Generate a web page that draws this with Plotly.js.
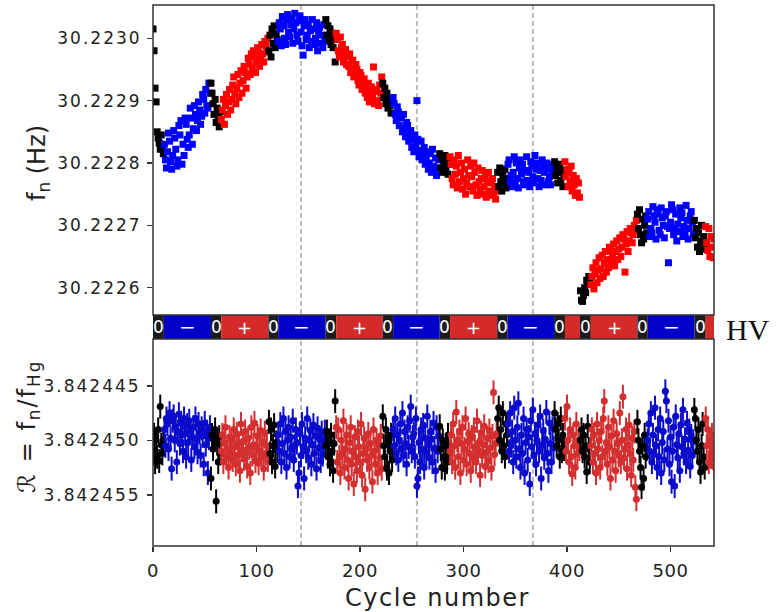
<!DOCTYPE html>
<html>
<head>
<meta charset="utf-8">
<script src="https://cdn.plot.ly/plotly-3.0.1.min.js"></script>
<style>
  html, body { margin: 0; padding: 0; background: #fff; }
  #chart { width: 779px; height: 612px; }
  .ytick text, .y3tick text { letter-spacing: 2px; }
  .xtick text { letter-spacing: 0.5px; }
</style>
</head>
<body>
<div id="chart"></div>
<script>
// ---------------- DATA ----------------
// HV state segments (cycle number boundaries)
const hvStart = [0, 10.5, 56, 66, 111.5, 121, 166.5, 177, 222, 232, 277, 287, 332.5, 342.5, 387.5, 398, 412.5, 423, 468, 478, 523, 534];
const hvEnd   = [10.5, 56, 66, 111.5, 121, 166.5, 177, 222, 232, 277, 287, 332.5, 342.5, 387.5, 398, 412.5, 423, 468, 478, 523, 534, 542];
const hvState = ['0','-','0','+','0','-','0','+','0','-','0','+','0','-','0','+','0','+','0','-','0','+'];
const hvLabel = ['0','\u2212','0','+','0','\u2212','0','+','0','\u2212','0','+','0','\u2212','0','','0','+','0','\u2212','0',''];

// Vertical dashed reference lines (cycle number)
const dashedCycles = [143, 255, 367];

// Top panel: f_n, in units of 1e-6 Hz above 30.2225 Hz, one array per HV segment
const FN_BASE = 30.2225, FN_UNIT = 1e-6;
const fnSeg = [
  [515, 480, 420, 398, 350, 340, 332, 322, 345, 328, 315],
  [330, 305, 292, 318, 348, 335, 302, 290, 312, 352, 340, 322, 295, 305, 360, 345, 368, 298, 330, 312, 372, 362, 338, 325, 345, 388, 372, 330, 355, 392, 378, 352, 368, 398, 385, 362, 375, 410, 402, 380, 418, 392, 388, 428, 412],
  [428, 412, 395, 378, 402, 365, 388, 372, 358, 382],
  [370, 385, 402, 362, 392, 410, 378, 398, 418, 385, 402, 425, 438, 410, 395, 420, 442, 405, 428, 448, 412, 432, 455, 445, 420, 438, 468, 458, 442, 475, 452, 480, 470, 445, 462, 485, 478, 455, 468, 490, 475, 462, 495, 488, 478, 500],
  [480, 505, 470, 515, 492, 520, 485, 508, 498],
  [495, 525, 515, 488, 535, 520, 500, 490, 530, 538, 510, 502, 522, 532, 492, 515, 540, 525, 505, 495, 528, 536, 510, 488, 473, 520, 530, 498, 505, 522, 485, 512, 495, 530, 515, 490, 500, 525, 480, 508, 518, 492, 505, 485, 522, 495],
  [530, 505, 520, 498, 515, 490, 508, 485, 500, 462],
  [508, 498, 480, 470, 502, 485, 490, 462, 472, 482, 458, 470, 455, 475, 445, 452, 465, 438, 442, 458, 450, 432, 425, 445, 440, 418, 428, 435, 412, 420, 405, 428, 398, 412, 422, 405, 454, 395, 415, 418, 400, 392, 425, 412, 438],
  [428, 405, 420, 395, 412, 388, 405, 392, 380, 398],
  [405, 395, 378, 368, 390, 382, 360, 372, 375, 350, 378, 355, 342, 365, 360, 335, 345, 352, 325, 338, 318, 345, 328, 400, 338, 310, 320, 335, 305, 315, 325, 298, 308, 318, 290, 300, 315, 285, 322, 295, 288, 308, 280, 292, 305],
  [315, 292, 308, 285, 300, 312, 290, 305, 282, 298],
  [310, 298, 275, 265, 305, 282, 295, 260, 312, 270, 285, 300, 258, 275, 290, 250, 268, 305, 280, 262, 295, 278, 255, 300, 285, 265, 248, 292, 270, 258, 275, 288, 250, 262, 280, 245, 270, 285, 255, 248, 268, 275, 252, 262, 242, 255],
  [285, 262, 292, 270, 255, 280, 268, 290, 260, 275],
  [298, 305, 270, 280, 262, 285, 310, 268, 300, 275, 260, 292, 305, 282, 298, 270, 265, 288, 310, 272, 285, 262, 302, 295, 278, 268, 312, 290, 300, 275, 262, 288, 272, 305, 295, 285, 265, 300, 290, 270, 278, 265, 298, 285, 292],
  [302, 280, 292, 268, 285, 298, 272, 288, 262, 280],
  [302, 278, 290, 262, 285, 270, 295, 255, 280, 265, 248, 275, 252, 268, 245],
  [95, 80, 78, 88, 100, 92, 112, 105, 118, 110],
  [105, 118, 132, 98, 122, 140, 108, 128, 148, 115, 130, 152, 118, 140, 158, 125, 145, 132, 165, 160, 142, 150, 170, 135, 158, 175, 145, 162, 180, 150, 165, 185, 178, 125, 170, 190, 158, 175, 195, 188, 172, 185, 200, 192, 208],
  [218, 195, 225, 185, 172, 210, 178, 200, 215, 188],
  [210, 222, 182, 195, 188, 230, 215, 205, 178, 225, 218, 192, 185, 228, 212, 200, 180, 215, 222, 198, 140, 195, 205, 233, 225, 185, 195, 218, 175, 202, 190, 228, 212, 220, 182, 198, 188, 232, 208, 178, 195, 215, 222, 205, 185],
  [208, 180, 195, 165, 188, 158, 175, 200, 162, 182, 170],
  [198, 172, 160, 195, 150, 182, 165, 148, 178]
];

// Bottom panel: R = f_n/f_Hg, in units of 1e-7 relative to 3.842450, one array per HV segment
const R_BASE = 3.842450, R_UNIT = 1e-7;
const rErrUnits = 11;  // +/- error bar half length, same units
const rSeg = [
  [8, -5, 20, 0, 15, -10, 19, -31, 4, 12, 0],
  [-10, 5, -20, -15, 8, -25, -2, 26, -18, -22, 0, -12, 20, -8, -24, 3, -16, -5, 10, -20, -6, 15, -14, 2, -18, -9, 18, -3, -12, 6, -20, -1, 11, -15, -7, 14, -11, -4, 22, -16, 4, -8, 30, -2, -12],
  [35, -5, 8, 0, -10, 56, 3, 20, -3, 12],
  [10, -5, 20, 2, -12, 15, 8, 25, -3, 12, 0, 18, -10, 6, 22, -6, 14, 3, 28, -15, 9, 1, 17, -8, 11, 24, -2, 7, 30, -12, 13, 4, -16, 19, 6, -4, 21, 10, -9, 15, 2, 26, -7, 12, 5, 18],
  [-17, 12, -10, 20, 5, -14, 24, 2, 10],
  [-5, 10, -15, 20, 3, -20, 12, -8, 25, 0, -12, 15, -3, 8, -18, 18, 5, -10, 2, 42, 30, -6, 14, -15, 6, 35, -2, 10, -20, 16, 0, -9, 22, 4, -14, 12, -4, 26, -11, 7, -1, 19, -7, 13, 3, -8],
  [5, -8, 15, 0, 22, -5, 10, 28, 3, -36],
  [-12, 20, -10, 15, 30, 0, 12, -18, 25, 8, -5, 18, 35, 2, -12, 22, 10, 40, -3, 15, 28, -8, 6, 20, -15, 32, 12, -2, 45, 8, 18, -6, 25, 3, 14, 38, -10, 10, 22, 0, 30, 5, 16, -4, 26],
  [-22, 5, 15, -10, 26, 0, 30, 10, -5, 18],
  [-10, 5, -20, 12, -5, 18, 0, -15, 8, -25, 14, -8, 3, 22, -12, 6, -18, -31, 10, -3, -6, 15, -20, 42, 35, 2, 20, -10, 8, -14, 25, -2, 12, -22, 4, 16, -8, -1, 20, -16, 7, 28, -12, 10, -4],
  [-13, 8, 25, 0, 15, 26, 5, 20, -5, 12],
  [10, -5, 20, -15, 5, 25, -26, 0, 15, -8, 30, 3, -12, 18, 8, -20, 22, 1, -6, 12, 28, -3, 16, -10, 6, 20, -18, 9, 2, 32, -7, 14, 4, -13, 24, 11, -2, 19, -9, 7, 26, -4, -44, 13, 3, -6],
  [-20, -30, 0, -10, 10, -25, 5, 15, -15, -5],
  [-15, 10, -25, 5, -8, 20, -30, 0, 15, -12, -34, 8, 25, -5, 12, -20, 30, 2, -10, 18, -3, 40, -18, 6, -28, 14, -6, 22, 0, -14, 10, -22, 35, 4, -9, 16, -1, -26, 12, 28, -16, 3, 20, -11, 7],
  [-25, -10, 5, -15, 0, 15, -20, 10, -5, 8],
  [-20, 10, -31, 0, 20, -10, 15, 31, -5, 5, 25, -15, 12, 0, 8],
  [0, -10, 10, -5, 15, 5, 29, -13, 8, 20],
  [5, -10, 20, -5, 12, 30, -15, 8, 0, 25, -8, 15, -20, -36, 10, 2, 22, -12, 6, 35, -4, 18, -18, 10, 28, -6, 3, 14, -25, 20, 0, -40, 16, 8, -10, 26, 4, -14, 12, 32, -2, 18, -8, 43, 54],
  [-17, 0, 10, 25, 43, 5, 35, -5, 15, 8],
  [0, -15, 10, -25, 20, -5, 12, -30, 5, 25, -10, 15, -20, 30, 2, -8, 18, -45, -36, 8, -18, 22, -3, 38, 10, -12, 42, -22, 4, 16, -6, 28, -14, 6, -28, 12, -1, 20, -16, 9, -9, 24, -4, 14, 1],
  [-28, -20, 0, 10, -10, 20, 29, 5, -15, 15, 25],
  [-20, 5, -10, 20, 0, 15, -5, 10, 24]
];

// Axis ticks
const xTicks = [0, 100, 200, 300, 400, 500];
const fnTicks = [30.2226, 30.2227, 30.2228, 30.2229, 30.2230];
const fnTickText = ['30.2226', '30.2227', '30.2228', '30.2229', '30.2230'];
const rTicks = [3.842445, 3.842450, 3.842455];
const rTickText = ['3.842445', '3.842450', '3.842455'];

// ---------------- STYLE ----------------
const FONT = 'DejaVu Sans, Verdana, sans-serif';
const topColor = {'0': '#000000', '-': '#0000ff', '+': '#ff0000'};
const botColor = {'0': '#000000', '-': '#0b0bcc', '+': '#d42f2f'};
const hvColor  = {'0': '#1c1c1c', '-': '#0000c8', '+': '#d42a2a'};
const AX = '#333333';

const D_BOT = [0, 0.3826];
const D_HV  = [0.3826, 0.427];
const D_TOP = [0.427, 1];

// ---------------- TRACES ----------------
const traces = [];

// HV strip
traces.push({
  type: 'bar', orientation: 'h',
  x: hvEnd.map((e, i) => e - hvStart[i]),
  base: hvStart,
  y: hvStart.map(() => 0),
  width: 1,
  marker: {color: hvState.map(s => hvColor[s]), line: {width: 0}},
  xaxis: 'x', yaxis: 'y2',
  hoverinfo: 'skip', showlegend: false
});

// Bottom panel (with error bars)
rSeg.forEach((arr, s) => {
  const c0 = Math.ceil(hvStart[s]);
  const col = botColor[hvState[s]];
  traces.push({
    type: 'scatter', mode: 'markers',
    x: arr.map((v, i) => c0 + i),
    y: arr.map(v => R_BASE + v * R_UNIT),
    error_y: {type: 'constant', value: rErrUnits * R_UNIT, color: col, thickness: 2, width: 0},
    marker: {symbol: 'circle', size: 7, color: col, line: {width: 0}},
    xaxis: 'x', yaxis: 'y', hoverinfo: 'skip', showlegend: false
  });
});

// Top panel
fnSeg.forEach((arr, s) => {
  const c0 = Math.ceil(hvStart[s]);
  traces.push({
    type: 'scatter', mode: 'markers',
    x: arr.map((v, i) => c0 + i),
    y: arr.map(v => FN_BASE + v * FN_UNIT),
    marker: {symbol: 'square', size: 7, color: topColor[hvState[s]], line: {width: 0}},
    xaxis: 'x', yaxis: 'y3', hoverinfo: 'skip', showlegend: false
  });
});

// ---------------- LAYOUT ----------------
const shapes = [];
dashedCycles.forEach(c => shapes.push({
  type: 'line', xref: 'x', yref: 'paper', x0: c, x1: c, y0: 0, y1: 1,
  line: {color: '#bcbcbc', width: 2, dash: '5px,3px'}, layer: 'below'
}));
[D_TOP, D_BOT].forEach(d => shapes.push({
  type: 'rect', xref: 'paper', yref: 'paper', x0: 0, x1: 1, y0: d[0], y1: d[1],
  line: {color: AX, width: 1.5}, fillcolor: 'rgba(0,0,0,0)', layer: 'above'
}));

const annotations = [];
hvLabel.forEach((t, i) => {
  if (!t) return;
  annotations.push({
    xref: 'x', yref: 'y2', x: (hvStart[i] + hvEnd[i]) / 2, y: 0,
    text: t, showarrow: false, xanchor: 'center', yanchor: 'middle',
    font: {family: FONT, size: t === '0' ? 17 : (t === '+' ? 18 : 20), color: '#ffffff'}
  });
});
annotations.push({
  xref: 'paper', yref: 'paper', x: 1.0606, y: 0.4011, text: 'HV', showarrow: false,
  xanchor: 'center', yanchor: 'middle',
  font: {family: 'Liberation Serif, Times New Roman, serif', size: 30, color: '#111'}
});
annotations.push({
  xref: 'paper', yref: 'paper', x: 0.5071, y: -0.0961, text: 'Cycle number', showarrow: false,
  xanchor: 'center', yanchor: 'middle',
  font: {family: FONT, size: 24, color: '#222'}
});
annotations.push({
  xref: 'paper', yref: 'paper', x: -0.2041, y: 0.7089, text: 'f<sub>n</sub> (Hz)', showarrow: false,
  xanchor: 'center', yanchor: 'middle', textangle: -90,
  font: {family: FONT, size: 24, color: '#222'}
});
annotations.push({
  xref: 'paper', yref: 'paper', x: -0.2217, y: 0.2209, text: '\u211B = f<sub>n</sub>/f<sub>Hg</sub>', showarrow: false,
  xanchor: 'center', yanchor: 'middle', textangle: -90,
  font: {family: FONT, size: 24, color: '#222'}
});

const tickCommon = {
  ticks: 'outside', ticklen: 5, tickwidth: 1.5, tickcolor: AX,
  showgrid: false, zeroline: false, showline: false, fixedrange: true
};

const layout = {
  width: 779, height: 612,
  margin: {l: 153, r: 65, t: 5, b: 66, pad: 0},
  paper_bgcolor: '#ffffff', plot_bgcolor: '#ffffff',
  showlegend: false,
  xaxis: Object.assign({}, tickCommon, {
    domain: [0, 1], anchor: 'y', range: [0, 542],
    tickmode: 'array', tickvals: xTicks, ticktext: xTicks.map(String),
    ticklabelstandoff: 3,
    tickfont: {family: FONT, size: 18, color: '#222'}
  }),
  yaxis: Object.assign({}, tickCommon, {
    domain: D_BOT, anchor: 'x', range: [3.8424597, 3.8424407],
    tickmode: 'array', tickvals: rTicks, ticktext: rTickText,
    ticklabelstandoff: 3,
    tickfont: {family: FONT, size: 17, color: '#222'}
  }),
  yaxis2: {domain: D_HV, anchor: 'x', range: [-0.5, 0.5], visible: false, fixedrange: true},
  yaxis3: Object.assign({}, tickCommon, {
    domain: D_TOP, anchor: 'x', range: [30.2225562, 30.2230534],
    tickmode: 'array', tickvals: fnTicks, ticktext: fnTickText,
    ticklabelstandoff: 2,
    tickfont: {family: FONT, size: 17, color: '#222'}
  }),
  shapes: shapes,
  annotations: annotations
};

Plotly.newPlot('chart', traces, layout, {staticPlot: true, displayModeBar: false}).then(() => {
  document.querySelectorAll('text.annotation-text').forEach(t => {
    const s = t.textContent;
    if (s === 'Cycle number') t.style.letterSpacing = '1.5px';
    else if (s.charAt(0) === '\u211B') t.style.letterSpacing = '2px';
  });
});
</script>
</body>
</html>
